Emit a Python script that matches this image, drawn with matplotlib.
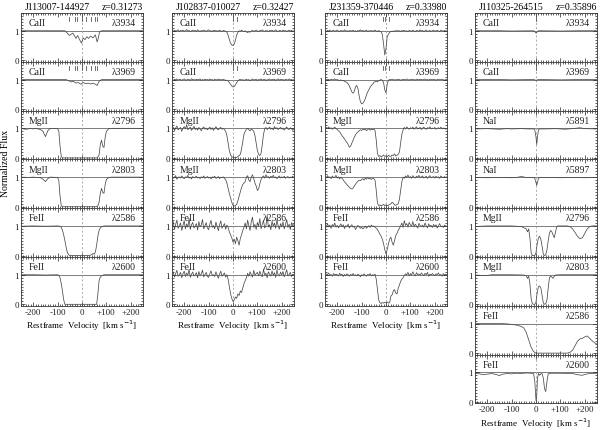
import numpy as np
import matplotlib
matplotlib.use("Agg")
import matplotlib.pyplot as plt
from matplotlib.ticker import MultipleLocator, FixedLocator, FuncFormatter

FONT = "Liberation Serif"
plt.rcParams["font.family"] = [FONT, "DejaVu Serif"]

# ---------------- data ----------------
# common 5 km/s velocity grid for the noisy spectra
vel5 = np.arange(-250, 251, 5)

titles = ["J113007-144927", "J102837-010027", "J231359-370446", "J110325-264515"]
redshifts = ["z=0.31273", "z=0.32427", "z=0.33980", "z=0.35896"]
comp_ticks = [[-52, -28, -19, -1, 17, 36, 55, 63], [-1, 16], [-11, -4, 13], [0]]

# ---- column 1 (key points, flux in %)
c1_ca3934_v = [-250, -150, -70, -60, -52, -45, -38, -30, -25, -18, -10, -2, 5, 12, 20, 27, 35, 45, 55, 62, 66, 72, 80, 150, 250]
c1_ca3934_f = [100, 100, 100, 92, 84, 88, 92, 82, 74, 84, 70, 58, 76, 70, 80, 74, 82, 76, 86, 62, 72, 96, 100, 100, 100]
c1_ca3969_v = [-250, -150, -65, -55, -45, -35, -25, -15, -5, 5, 15, 25, 35, 45, 55, 62, 70, 80, 250]
c1_ca3969_f = [100, 100, 100, 96, 92, 94, 88, 90, 84, 90, 86, 88, 85, 88, 84, 80, 94, 100, 100]
c1_mg2796_v = [-250, -240, -230, -220, -210, -200, -190, -170, -160, -150, -140, -130, -100, -95, -90, -85, -80, 60, 65, 70, 75, 80, 85, 90, 95, 100, 110, 120, 180, 250]
c1_mg2796_f = [100, 98, 97, 98, 100, 98, 100, 96, 90, 72, 92, 100, 99, 90, 40, 5, 0, 0, 3, 10, 45, 60, 40, 35, 70, 90, 99, 100, 100, 100]
c1_mg2803_v = [-250, -220, -200, -170, -160, -150, -140, -130, -100, -95, -90, -85, -80, 60, 65, 70, 75, 80, 85, 90, 95, 100, 110, 120, 250]
c1_mg2803_f = [100, 99, 100, 98, 93, 85, 95, 100, 99, 88, 35, 4, 0, 0, 4, 15, 45, 62, 48, 45, 75, 92, 99, 100, 100]
c1_fe2586_v = [-250, -200, -150, -100, -90, -85, -80, -75, -70, -65, -60, -55, -50, 30, 40, 45, 50, 55, 60, 65, 70, 75, 80, 90, 150, 250]
c1_fe2586_f = [99, 100, 99, 100, 99, 95, 85, 70, 50, 28, 10, 3, 0, 0, 3, 7, 4, 12, 35, 65, 85, 93, 97, 100, 100, 100]
c1_fe2600_v = [-250, -200, -150, -100, -95, -90, -85, -80, -75, -70, 60, 65, 70, 75, 80, 90, 150, 250]
c1_fe2600_f = [100, 100, 99, 100, 98, 90, 70, 45, 15, 0, 0, 35, 80, 92, 96, 100, 100, 100]

# ---- column 2 (5 km/s grid, flux in %)
c2_ca3934_f = [101, 98, 102, 99, 100, 103, 97, 101, 99, 102,
               98, 100, 104, 99, 101, 97, 100, 102, 99, 101,
               98, 103, 100, 97, 101, 99, 102, 100, 98, 101,
               103, 99, 100, 97, 102, 99, 101, 98, 100, 102,
               99, 97, 101, 100, 98, 95, 85, 70, 58, 52,
               50, 55, 68, 85, 95, 100, 98, 102, 99, 97,
               100, 96, 94, 97, 95, 99, 101, 98, 100, 102,
               99, 97, 101, 100, 103, 99, 98, 101, 100, 97,
               101, 99, 102, 98, 100, 103, 99, 97, 101, 100,
               98, 102, 99, 101, 97, 100, 102, 99, 101, 98,
               100]
c2_ca3969_f = [100, 97, 101, 99, 102, 98, 100, 101, 97, 100,
               102, 99, 98, 101, 100, 97, 103, 99, 100, 98,
               101, 99, 100, 102, 97, 100, 98, 101, 99, 100,
               98, 102, 99, 100, 97, 101, 100, 98, 102, 99,
               100, 98, 101, 99, 97, 98, 95, 90, 84, 78,
               75, 76, 82, 90, 96, 99, 101, 98, 100, 97,
               99, 101, 98, 100, 96, 99, 102, 98, 100, 101,
               97, 100, 99, 102, 98, 100, 101, 97, 99, 100,
               102, 98, 100, 99, 101, 97, 100, 102, 98, 101,
               99, 100, 97, 101, 100, 98, 102, 99, 100, 98,
               100]
c2_mg2796_f = [97, 104, 92, 101, 108, 95, 99, 103, 90, 100,
               106, 98, 112, 95, 100, 104, 93, 99, 107, 96,
               101, 94, 103, 98, 92, 100, 105, 97, 101, 95,
               99, 104, 96, 102, 93, 100, 106, 98, 95, 101,
               103, 97, 100, 96, 90, 75, 50, 25, 10, 4,
               2, 0, 3, 1, 5, 8, 12, 30, 55, 80,
               90, 97, 100, 95, 92, 97, 95, 90, 75, 50,
               25, 12, 8, 15, 45, 80, 98, 103, 96, 100,
               104, 97, 101, 95, 106, 99, 102, 96, 100, 103,
               97, 101, 94, 100, 105, 98, 96, 102, 99, 93,
               100]
c2_mg2803_f = [102, 96, 100, 105, 93, 99, 101, 97, 104, 98,
               95, 101, 99, 106, 97, 100, 94, 102, 98, 100,
               103, 97, 100, 95, 101, 98, 104, 96, 99, 102,
               97, 100, 94, 101, 99, 103, 96, 98, 102, 95,
               100, 98, 101, 96, 92, 80, 62, 45, 30, 15,
               5, 2, 4, 8, 20, 35, 50, 65, 75, 80,
               85, 100, 105, 90, 85, 100, 108, 95, 80, 70,
               55, 60, 78, 92, 100, 104, 97, 108, 99, 102,
               96, 103, 100, 106, 98, 101, 95, 100, 104, 97,
               101, 98, 103, 96, 100, 102, 97, 100, 99, 103,
               98]
c2_fe2586_f = [95, 115, 88, 105, 120, 92, 100, 110, 85, 102,
               118, 90, 107, 96, 125, 88, 104, 112, 93, 99,
               108, 86, 115, 97, 103, 122, 90, 100, 111, 94,
               87, 106, 119, 95, 101, 90, 113, 98, 84, 105,
               117, 92, 100, 108, 89, 103, 95, 80, 70, 60,
               45, 55, 40, 62, 50, 35, 58, 70, 85, 95,
               110, 90, 120, 100, 85, 115, 130, 95, 105, 88,
               112, 98, 125, 90, 106, 118, 93, 100, 135, 96,
               104, 87, 116, 99, 110, 92, 120, 101, 89, 108,
               97, 114, 90, 103, 122, 95, 106, 88, 111, 100,
               105]
c2_fe2600_f = [98, 110, 92, 104, 115, 95, 100, 108, 90, 103,
               112, 94, 106, 99, 118, 91, 102, 109, 96, 100,
               107, 90, 111, 98, 102, 116, 93, 100, 108, 95,
               91, 104, 113, 97, 100, 94, 110, 99, 88, 103,
               112, 95, 101, 106, 92, 100, 85, 60, 35, 20,
               10, 15, 25, 20, 35, 30, 45, 40, 55, 70,
               80, 90, 105, 95, 110, 100, 92, 115, 98, 104,
               108, 96, 112, 100, 93, 118, 99, 105, 90, 110,
               102, 95, 113, 98, 107, 91, 116, 100, 96, 109,
               99, 111, 93, 104, 117, 96, 101, 108, 94, 102,
               100]

# ---- column 3 (5 km/s grid, flux in %)
c3_ca3934_f = [100, 98, 101, 99, 102, 97, 100, 101, 98, 100,
               102, 99, 97, 101, 100, 98, 103, 99, 100, 97,
               101, 99, 100, 102, 98, 100, 97, 101, 99, 103,
               99, 101, 98, 100, 102, 97, 100, 99, 101, 98,
               100, 102, 99, 97, 101, 98, 96, 88, 55, 18,
               40, 80, 88, 95, 97, 99, 97, 100, 98, 101,
               99, 100, 97, 101, 99, 102, 98, 100, 97, 101,
               100, 98, 102, 99, 97, 101, 100, 98, 103, 99,
               101, 97, 100, 102, 98, 99, 101, 97, 100, 102,
               98, 100, 101, 99, 97, 102, 100, 98, 101, 99,
               100]
c3_ca3969_f = [100, 99, 101, 100, 98, 101, 99, 100, 102, 99,
               100, 98, 97, 99, 96, 97, 94, 92, 90, 85,
               78, 68, 58, 54, 60, 75, 80, 70, 45, 25,
               18, 20, 26, 35, 48, 58, 66, 74, 80, 84,
               90, 93, 95, 92, 96, 98, 100, 97, 90, 65,
               55, 85, 98, 100, 99, 101, 100, 98, 100, 99,
               101, 100, 98, 99, 101, 100, 99, 102, 100, 98,
               100, 101, 99, 100, 98, 101, 100, 99, 101, 100,
               99, 100, 102, 99, 100, 98, 101, 100, 99, 101,
               100, 98, 100, 101, 99, 100, 101, 99, 98, 100,
               100]
c3_mg2796_f = [98, 103, 100, 105, 99, 102, 97, 101, 104, 99,
               96, 92, 88, 82, 75, 70, 64, 58, 52, 45,
               36, 40, 50, 60, 70, 78, 84, 88, 92, 95,
               93, 97, 95, 98, 92, 96, 99, 94, 97, 95,
               98, 93, 60, 15, 5, 8, 4, 6, 10, 5,
               7, 4, 9, 6, 5, 10, 8, 14, 6, 9,
               12, 20, 50, 80, 95, 103, 98, 105, 100, 97,
               102, 99, 104, 97, 101, 105, 98, 100, 103, 96,
               101, 104, 99, 97, 102, 100, 105, 98, 101, 99,
               103, 97, 100, 102, 99, 104, 98, 101, 100, 97,
               100]
c3_mg2803_f = [102, 97, 105, 99, 101, 95, 104, 98, 100, 106,
               97, 101, 94, 100, 96, 90, 84, 80, 74, 70,
               66, 62, 60, 63, 70, 76, 82, 86, 90, 88,
               92, 95, 90, 97, 93, 99, 94, 96, 92, 97,
               95, 90, 55, 12, 4, 6, 3, 5, 8, 4,
               6, 3, 5, 8, 10, 15, 12, 6, 5, 8,
               10, 25, 55, 85, 100, 96, 104, 99, 107, 98,
               102, 96, 105, 100, 97, 103, 99, 106, 98, 101,
               104, 97, 100, 103, 96, 101, 105, 98, 100, 102,
               97, 103, 99, 101, 96, 104, 100, 98, 102, 99,
               101]
c3_fe2586_f = [100, 95, 108, 97, 103, 92, 105, 99, 110, 96,
               102, 94, 100, 107, 97, 104, 91, 101, 98, 106,
               93, 100, 104, 96, 99, 88, 95, 102, 97, 92,
               96, 90, 94, 99, 92, 97, 101, 95, 103, 98,
               100, 96, 92, 88, 80, 72, 65, 55, 40, 20,
               5, 20, 40, 55, 62, 45, 35, 50, 68, 75,
               85, 92, 100, 110, 95, 118, 102, 108, 96, 112,
               104, 99, 115, 97, 106, 100, 93, 109, 101, 98,
               103, 96, 110, 100, 94, 107, 99, 102, 95, 105,
               98, 104, 93, 101, 108, 97, 100, 95, 103, 99,
               100]
c3_fe2600_f = [98, 103, 100, 106, 97, 101, 95, 104, 99, 102,
               100, 96, 105, 99, 102, 94, 101, 97, 103, 100,
               95, 101, 98, 104, 97, 100, 96, 102, 99, 93,
               100, 97, 103, 98, 95, 101, 99, 104, 96, 100,
               98, 102, 85, 50, 15, 5, 3, 6, 4, 7,
               5, 8, 4, 6, 28, 32, 45, 50, 38, 35,
               55, 65, 78, 85, 90, 98, 103, 100, 108, 96,
               104, 99, 110, 101, 96, 107, 100, 103, 98, 106,
               101, 97, 105, 100, 108, 95, 102, 99, 104, 100,
               97, 103, 100, 106, 98, 101, 95, 104, 99, 102,
               100]

# ---- column 4 (key points, flux in %)
c4_ca3934_v = [-250, -150, -100, -10, -5, 0, 5, 10, 100, 180, 250]
c4_ca3934_f = [100, 100, 99, 100, 97, 92, 96, 100, 99, 100, 100]
c4_ca3969_v = [-250, -150, -100, -10, -5, 0, 5, 10, 100, 180, 250]
c4_ca3969_f = [100, 100, 99, 100, 99, 97, 99, 100, 99, 100, 100]
c4_na5891_v = [-250, -200, -150, -120, -100, -60, -30, -10, -5, 0, 3, 6, 10, 15, 40, 80, 120, 160, 180, 200, 250]
c4_na5891_f = [98, 99, 97, 99, 98, 99, 98, 98, 95, 70, 45, 70, 95, 98, 98, 99, 97, 100, 102, 99, 98]
c4_na5897_v = [-250, -200, -150, -100, -80, -60, -40, -10, -5, 0, 3, 6, 10, 15, 60, 100, 150, 200, 250]
c4_na5897_f = [99, 98, 99, 98, 99, 102, 99, 99, 96, 82, 72, 82, 96, 99, 99, 98, 99, 98, 99]
c4_mg2796_v = [-250, -200, -100, -60, -40, -35, -30, -25, -20, -15, -5, 0, 5, 10, 15, 20, 25, 30, 35, 40, 45, 50, 55, 60, 65, 70, 75, 80, 85, 90, 130, 140, 150, 160, 170, 180, 190, 200, 210, 220, 230, 250]
c4_mg2796_f = [98, 100, 100, 98, 90, 80, 90, 60, 10, 0, 0, 10, 40, 60, 65, 55, 30, 5, 0, 2, 20, 50, 75, 85, 80, 70, 60, 80, 97, 100, 100, 97, 90, 78, 65, 57, 60, 75, 90, 98, 100, 100]
c4_mg2803_v = [-250, -200, -190, -180, -100, -50, -40, -35, -30, -25, -20, -15, -10, -5, 0, 5, 10, 15, 20, 25, 30, 35, 40, 45, 50, 55, 60, 65, 70, 75, 80, 100, 250]
c4_mg2803_f = [99, 97, 99, 100, 100, 99, 97, 88, 95, 70, 20, 2, 0, 0, 8, 40, 60, 62, 55, 30, 5, 0, 2, 15, 55, 90, 95, 92, 88, 95, 99, 100, 100]
c4_fe2586_v = [-250, -200, -150, -120, -100, -80, -60, -50, -40, -30, -20, -10, 0, 130, 140, 150, 160, 170, 180, 190, 200, 210, 220, 230, 240, 250]
c4_fe2586_f = [100, 100, 100, 99, 97, 95, 90, 85, 70, 45, 20, 5, 0, 0, 3, 10, 25, 40, 48, 50, 55, 58, 50, 42, 35, 30]
c4_fe2600_v = [-250, -230, -220, -200, -180, -160, -150, -140, -120, -100, -80, -60, -40, -20, -10, -5, 0, 3, 6, 10, 15, 20, 25, 30, 35, 40, 45, 50, 60, 100, 150, 170, 190, 200, 220, 250]
c4_fe2600_f = [96, 95, 92, 94, 96, 92, 89, 93, 96, 95, 97, 96, 98, 97, 96, 70, 5, 20, 80, 96, 90, 95, 96, 80, 45, 35, 70, 95, 97, 97, 96, 92, 90, 93, 96, 97]

ions_c1 = ["CaII", "CaII", "MgII", "MgII", "FeII", "FeII"]
waves_c1 = ["3934", "3969", "2796", "2803", "2586", "2600"]
ions_c4 = ["CaII", "CaII", "NaI", "NaI", "MgII", "MgII", "FeII", "FeII"]
waves_c4 = ["3934", "3969", "5891", "5897", "2796", "2803", "2586", "2600"]

columns = [
    [(c1_ca3934_v, c1_ca3934_f), (c1_ca3969_v, c1_ca3969_f), (c1_mg2796_v, c1_mg2796_f),
     (c1_mg2803_v, c1_mg2803_f), (c1_fe2586_v, c1_fe2586_f), (c1_fe2600_v, c1_fe2600_f)],
    [(vel5, c2_ca3934_f), (vel5, c2_ca3969_f), (vel5, c2_mg2796_f),
     (vel5, c2_mg2803_f), (vel5, c2_fe2586_f), (vel5, c2_fe2600_f)],
    [(vel5, c3_ca3934_f), (vel5, c3_ca3969_f), (vel5, c3_mg2796_f),
     (vel5, c3_mg2803_f), (vel5, c3_fe2586_f), (vel5, c3_fe2600_f)],
    [(c4_ca3934_v, c4_ca3934_f), (c4_ca3969_v, c4_ca3969_f), (c4_na5891_v, c4_na5891_f),
     (c4_na5897_v, c4_na5897_f), (c4_mg2796_v, c4_mg2796_f), (c4_mg2803_v, c4_mg2803_f),
     (c4_fe2586_v, c4_fe2586_f), (c4_fe2600_v, c4_fe2600_f)],
]
col_ions = [ions_c1, ions_c1, ions_c1, ions_c4]
col_waves = [waves_c1, waves_c1, waves_c1, waves_c4]

# ---------------- layout ----------------
FW, FH = 600, 431
fig = plt.figure(figsize=(FW / 100, FH / 100), dpi=100)
col_left = [21, 172, 325, 475]
col_w = 122
top0 = 14
ph = 48.8
FS = 7
TFS = 6.5
LC = "#4a4a4a"


def vfmt(x, pos):
    x = int(round(x))
    return "+%d" % x if x > 0 else "%d" % x


for c in range(4):
    panels = columns[c]
    n = len(panels)
    L = col_left[c]
    for i, (v, f) in enumerate(panels):
        bot_px = top0 + (i + 1) * ph
        ax = fig.add_axes([L / FW, 1 - bot_px / FH, col_w / FW, ph / FH])
        ax.set_xlim(-250, 250)
        ax.set_ylim(-0.05, 1.6)
        ax.axhline(1, color="#5a5a5a", lw=0.55, zorder=1)
        ax.axvline(0, color="#a0a0a0", lw=0.6, ls=(0, (2.5, 2.5)), zorder=1)
        ax.plot(v, np.asarray(f) / 100.0, color=LC, lw=0.55, zorder=3)
        ax.xaxis.set_major_locator(MultipleLocator(100))
        ax.xaxis.set_minor_locator(MultipleLocator(10))
        ax.yaxis.set_major_locator(FixedLocator([0, 1]))
        ax.yaxis.set_minor_locator(MultipleLocator(0.1))
        ax.tick_params(which="both", direction="in", top=True, right=True, width=0.5,
                       labelsize=TFS, pad=1.5, colors="#222222")
        ax.tick_params(which="major", length=3)
        ax.tick_params(which="minor", length=1.5)
        for s in ax.spines.values():
            s.set_linewidth(0.6)
            s.set_color("#333333")
        ax.yaxis.set_major_formatter(FuncFormatter(lambda y, p: "%d" % y))
        if i == n - 1:
            ax.xaxis.set_major_formatter(FuncFormatter(vfmt))
            fig.text((L + col_w / 2) / FW, 1 - (bot_px + 19) / FH,
                     "Restframe  Velocity  [km s$^{-1}$]", fontsize=TFS,
                     ha="center", va="center")
        else:
            ax.tick_params(labelbottom=False)
        ax.text(0.06, 0.80, col_ions[c][i], transform=ax.transAxes, fontsize=FS,
                ha="left", va="center", color="#222222")
        ax.text(0.94, 0.80, "\u03bb" + col_waves[c][i], transform=ax.transAxes, fontsize=FS,
                ha="right", va="center", color="#222222")
        if i < 2:
            for t in comp_ticks[c]:
                ax.plot([t, t], [1.33, 1.45], color="#555555", lw=0.6)
    fig.text((L + 4) / FW, 1 - 7 / FH, titles[c], fontsize=FS, ha="left", va="center")
    fig.text((L + col_w) / FW, 1 - 7 / FH, redshifts[c], fontsize=FS, ha="right", va="center")

fig.text(6 / FW, 1 - 163 / FH, "Normalized Flux", rotation=90, fontsize=FS, ha="center", va="center")

fig.savefig("out.png", dpi=100)
